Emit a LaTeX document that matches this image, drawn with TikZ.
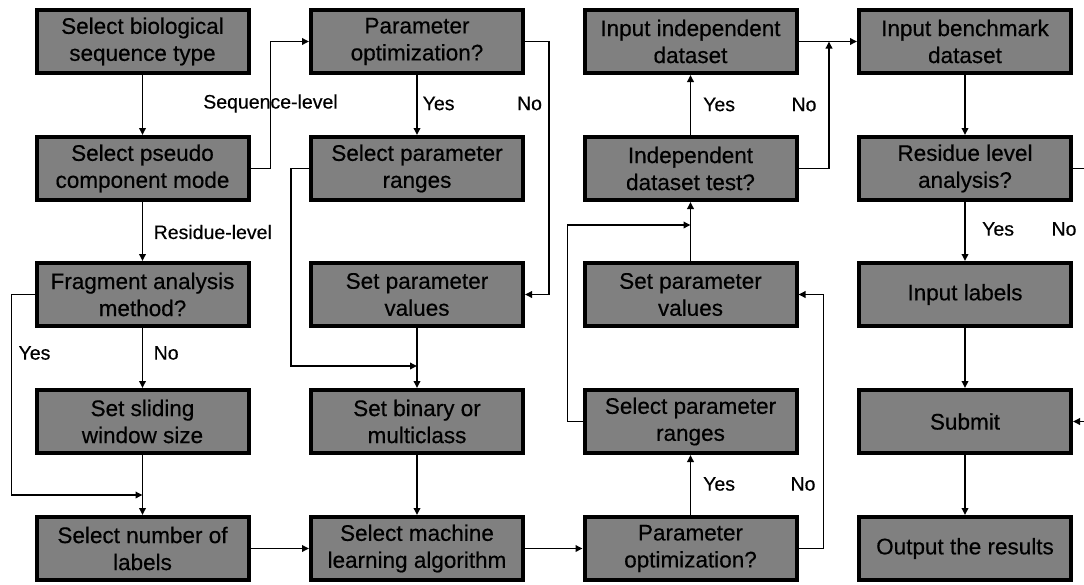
\documentclass[tikz,border=0pt]{standalone}
\usepackage{fontspec}
\setmainfont{Liberation Sans}[FakeBold=0.4]
\usetikzlibrary{arrows.meta}
\definecolor{boxgray}{RGB}{128,128,128}

\begin{document}
\begin{tikzpicture}[x=1pt,y=-1pt,
  stepbox/.style={draw,line width=4pt,fill=boxgray,minimum width=212pt,minimum height=63pt,
    inner sep=2pt,align=center,font=\fontsize{22.5}{27}\selectfont},
  lbl/.style={inner sep=0pt,font=\fontsize{19.5}{23}\selectfont},
  flow/.style={line width=1.8pt,-{Triangle[length=7pt,width=6.5pt]}}]

\useasboundingbox (0,0) rectangle (1084,584);

\node [stepbox] (seqtype) at (142.5,41.5) {Select biological\\sequence type};
\node [stepbox] (pseudo) at (142.5,168.5) {Select pseudo\\component mode};
\node [stepbox] (fragment) at (142.5,294.5) {Fragment analysis\\method?};
\node [stepbox] (window) at (142.5,421.5) {Set sliding\\window size};
\node [stepbox] (nlabels) at (142.5,548.5) {Select number of\\labels};

\node [stepbox] (optA) at (417,41.5) {Parameter\\optimization?};
\node [stepbox] (rangesA) at (417,168.5) {Select parameter\\ranges};
\node [stepbox] (valuesA) at (417,294.5) {Set parameter\\values};
\node [stepbox] (classes) at (417,421.5) {Set binary or\\multiclass};
\node [stepbox] (algorithm) at (417,548.5) {Select machine\\learning algorithm};

\node [stepbox] (indepdata) at (690.5,41.5) {Input independent\\dataset};
\node [stepbox] (indeptest) at (690.5,168.5) {Independent\\dataset test?};
\node [stepbox] (valuesB) at (690.5,294.5) {Set parameter\\values};
\node [stepbox] (rangesB) at (690.5,421.5) {Select parameter\\ranges};
\node [stepbox] (optB) at (690.5,548.5) {Parameter\\optimization?};

\node [stepbox] (benchmark) at (965,41.5) {Input benchmark\\dataset};
\node [stepbox] (residue) at (965,168.5) {Residue level\\analysis?};
\node [stepbox] (inlabels) at (965,294.5) {Input labels};
\node [stepbox] (submit) at (965,421.5) {Submit};
\node [stepbox] (output) at (965,548.5) {Output the results};

\coordinate (joinA) at (142.5,495);
\coordinate (joinB) at (417,366);
\coordinate (joinC) at (690.5,225);
\coordinate (joinD) at (829,41.5);
\coordinate (edgeA) at (1084,168.5);
\coordinate (edgeB) at (1084,421.5);

\draw [flow] (seqtype) -- (pseudo);
\draw [flow] (pseudo.east) -- ++(20,0) |- (optA.west);
\draw [flow] (pseudo) -- (fragment);
\draw [flow] (fragment) -- (window);
\draw [flow] (fragment.west) -- ++(-23,0) |- (joinA);
\draw [flow] (window) -- (nlabels);
\draw [flow] (nlabels) -- (algorithm);

\draw [flow] (optA) -- (rangesA);
\draw [flow] (optA.east) -- ++(24,0) |- (valuesA.east);
\draw [flow] (rangesA.west) -- ++(-18,0) |- (joinB);
\draw [flow] (valuesA) -- (classes);
\draw [flow] (classes) -- (algorithm);
\draw [flow] (algorithm) -- (optB);

\draw [flow] (optB) -- (rangesB);
\draw [flow] (optB.east) -- ++(25,0) |- (valuesB.east);
\draw [flow] (rangesB.west) -- ++(-15,0) |- (joinC);
\draw [flow] (valuesB) -- (indeptest);
\draw [flow] (indeptest) -- (indepdata);
\draw [flow] (indeptest.east) -| (joinD);
\draw [flow] (indepdata) -- (benchmark);

\draw [flow] (benchmark) -- (residue);
\draw [flow] (residue) -- (inlabels);
\draw [line width=1.8pt] (residue.east) -- (edgeA);
\draw [flow] (edgeB) -- (submit.east);
\draw [flow] (inlabels) -- (submit);
\draw [flow] (submit) -- (output);

\node [lbl] (seqlevel) at (270.5,103.5) {Sequence-level};
\node [lbl,anchor=west] (reslevel) at (153.5,232) {Residue-level};
\node [lbl] (yesA) at (34.5,353) {Yes};
\node [lbl,anchor=west] (noA) at (153.5,353) {No};
\node [lbl,anchor=west] (yesB) at (422.5,103.5) {Yes};
\node [lbl] (noB) at (529.5,103.5) {No};
\node [lbl,anchor=west] (yesC) at (703,484) {Yes};
\node [lbl] (noC) at (803,484) {No};
\node [lbl,anchor=west] (yesD) at (703,104.5) {Yes};
\node [lbl] (noD) at (804,104.5) {No};
\node [lbl,anchor=west] (yesE) at (982,229) {Yes};
\node [lbl] (noE) at (1064,229) {No};

\end{tikzpicture}
\end{document}
